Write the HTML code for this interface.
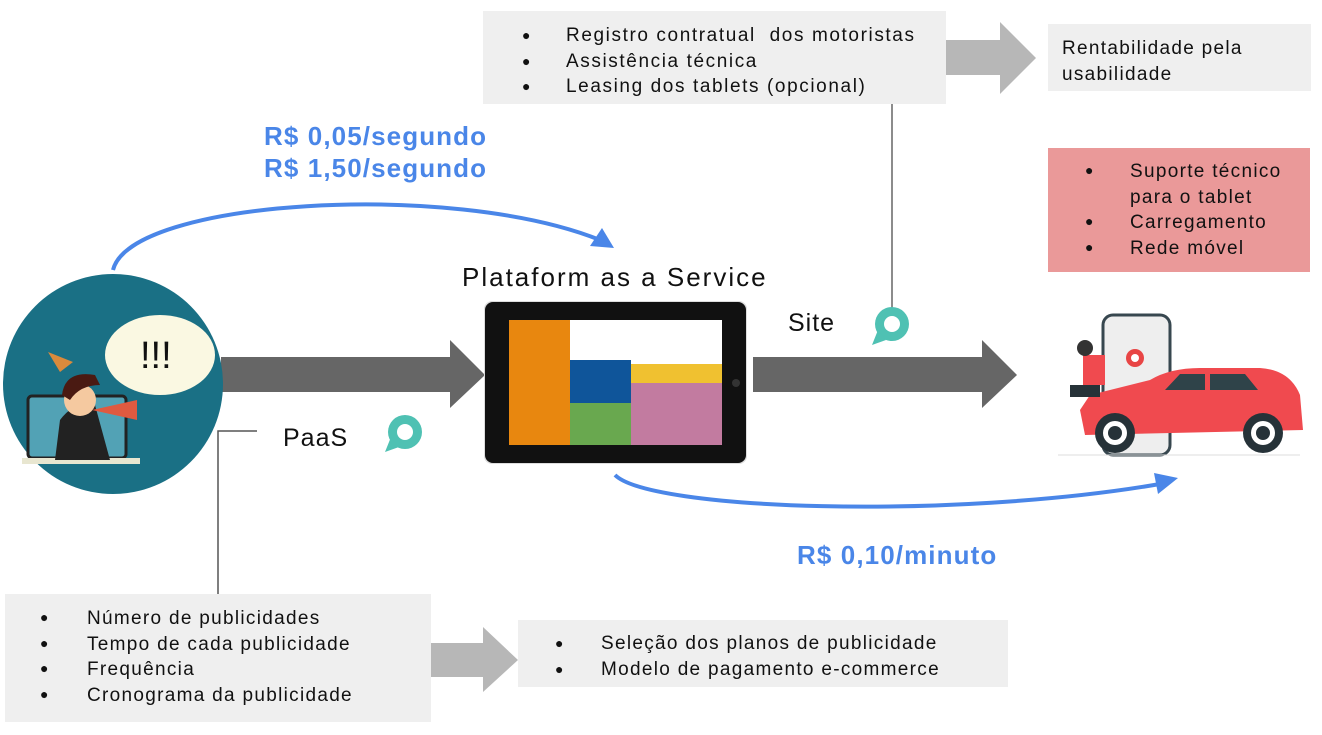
<!DOCTYPE html>
<html><head><meta charset="utf-8"><style>
body{margin:0;width:1322px;height:735px;background:#fff;position:relative;overflow:hidden;font-family:"Liberation Sans",sans-serif;color:#111}
.a{position:absolute;white-space:nowrap}
.box{position:absolute;background:#efefef}
.t{position:absolute;font-size:19px;white-space:nowrap;letter-spacing:1.3px}
.b{position:absolute;font-size:14px}
</style></head><body>
<svg class="a" style="left:0;top:0" width="1322" height="735">
<polygon points="946,40 1000,40 1000,22 1036,58 1000,94 1000,75 946,75" fill="#b7b7b7"/>
<polygon points="428,643 483,643 483,627 518,660 483,692 483,677 428,677" fill="#b7b7b7"/>
<polygon points="221,357 450,357 450,340 485,375 450,408 450,392 221,392" fill="#666"/>
<polygon points="753,357 982,357 982,340 1017,375 982,408 982,392 753,392" fill="#666"/>
<line x1="892" y1="104" x2="892" y2="312" stroke="#666" stroke-width="1.5"/>
<polyline points="257,431 218,431 218,595" fill="none" stroke="#555" stroke-width="1.5"/>
<path d="M113,270 C130,200 450,180 600,240" fill="none" stroke="#4a86e8" stroke-width="4"/>
<polygon points="614,248 590,246 602,228" fill="#4a86e8"/>
<path d="M615,475 C650,510 950,520 1160,484" fill="none" stroke="#4a86e8" stroke-width="4"/>
<polygon points="1178,478 1158,494 1154,473" fill="#4a86e8"/>
<circle cx="113" cy="384" r="110" fill="#1a7085"/>
<ellipse cx="160" cy="355" rx="55" ry="40" fill="#faf8e2"/>
<text x="140" y="368" font-size="38" font-family="Liberation Sans" fill="#111">!!!</text>
<rect x="28" y="396" width="98" height="62" rx="4" fill="#52a2b5" stroke="#222" stroke-width="3"/>
<rect x="22" y="458" width="118" height="6" fill="#e8e6d0"/>
<path d="M55,460 L60,420 Q75,400 95,405 L110,460 Z" fill="#222"/>
<circle cx="80" cy="400" r="16" fill="#f5c9a0"/>
<path d="M62,395 Q65,370 95,375 L100,385 Q80,385 70,400 Z" fill="#4a1a12"/>
<polygon points="92,410 137,400 137,420" fill="#e05a40"/>
<polygon points="48,352 73,362 60,372" fill="#d98a3c"/>
<rect x="484" y="301" width="263" height="163" rx="8" fill="#ddd"/>
<rect x="485" y="302" width="261" height="161" rx="8" fill="#111"/>
<rect x="509" y="320" width="213" height="125" fill="#fff"/>
<rect x="509" y="320" width="61" height="125" fill="#e8870f"/>
<rect x="570" y="360" width="61" height="43" fill="#0f559a"/>
<rect x="570" y="403" width="61" height="42" fill="#69a84f"/>
<rect x="631" y="364" width="91" height="19" fill="#f0c130"/>
<rect x="631" y="383" width="91" height="62" fill="#c27ba0"/>
<circle cx="736" cy="383" r="4" fill="#333"/>
<circle cx="892" cy="324" r="17" fill="#4fc1b3"/><circle cx="892" cy="324" r="8" fill="#fff"/><polygon points="872,345 878,330 886,340" fill="#4fc1b3"/>
<circle cx="405" cy="432" r="17" fill="#4fc1b3"/><circle cx="405" cy="432" r="8" fill="#fff"/><polygon points="385,452 391,437 399,447" fill="#4fc1b3"/>
<rect x="1103" y="315" width="67" height="140" rx="10" fill="#eee" stroke="#37474f" stroke-width="3"/>
<circle cx="1135" cy="358" r="9" fill="#e84545"/><circle cx="1135" cy="358" r="4" fill="#fff"/>
<path d="M1080,410 L1090,395 L1150,380 Q1170,368 1200,368 L1260,368 Q1290,370 1300,395 L1303,430 L1085,435 Z" fill="#f04a4f"/>
<path d="M1165,390 L1180,374 L1205,374 L1205,390 Z M1210,374 L1245,374 L1258,390 L1210,390 Z" fill="#2f4349"/>
<rect x="1083" y="355" width="22" height="30" fill="#f04a4f"/>
<circle cx="1085" cy="348" r="8" fill="#333"/>
<rect x="1070" y="385" width="30" height="12" fill="#263238"/>
<circle cx="1115" cy="433" r="20" fill="#263238"/><circle cx="1115" cy="433" r="12" fill="#fff"/><circle cx="1115" cy="433" r="7" fill="#263238"/>
<circle cx="1263" cy="433" r="20" fill="#263238"/><circle cx="1263" cy="433" r="12" fill="#fff"/><circle cx="1263" cy="433" r="7" fill="#263238"/>
<line x1="1058" y1="455" x2="1300" y2="455" stroke="#ddd"/>
</svg>

<div class="box" style="left:483px;top:11px;width:463px;height:93px"></div>
<div class="b" style="left:522px;top:23px;line-height:25.5px">●<br>●<br>●</div>
<div class="t" style="left:566px;top:23px;line-height:25.5px;letter-spacing:1.6px">Registro contratual &nbsp;dos motoristas<br>Assistência técnica<br>Leasing dos tablets (opcional)</div>

<div class="box" style="left:1048px;top:24px;width:263px;height:67px"></div>
<div class="t" style="left:1062px;top:36px;line-height:26px">Rentabilidade pela<br>usabilidade</div>

<div class="a" style="left:264px;top:120px;font-size:26px;line-height:32px;color:#4a86e8;font-weight:bold;letter-spacing:1.1px">R$ 0,05/segundo<br>R$ 1,50/segundo</div>

<div class="box" style="left:1048px;top:148px;width:262px;height:124px;background:#ea9999"></div>
<div class="b" style="left:1085px;top:158px;line-height:25.7px">●<br><br>●<br>●</div>
<div class="t" style="left:1130px;top:159px;line-height:25.7px">Suporte técnico<br>para o tablet<br>Carregamento<br>Rede móvel</div>

<div class="a" style="left:462px;top:262px;font-size:26px;letter-spacing:2px">Plataform as a Service</div>
<div class="a" style="left:788px;top:309px;font-size:25px;letter-spacing:1px">Site</div>
<div class="a" style="left:283px;top:424px;font-size:25px;letter-spacing:1px">PaaS</div>
<div class="a" style="left:797px;top:540px;font-size:26px;color:#4a86e8;font-weight:bold;letter-spacing:1.1px">R$ 0,10/minuto</div>

<div class="box" style="left:5px;top:594px;width:426px;height:128px"></div>
<div class="b" style="left:40px;top:605px;line-height:25.7px">●<br>●<br>●<br>●</div>
<div class="t" style="left:87px;top:606px;line-height:25.7px">Número de publicidades<br>Tempo de cada publicidade<br>Frequência<br>Cronograma da publicidade</div>

<div class="box" style="left:518px;top:620px;width:490px;height:67px"></div>
<div class="b" style="left:555px;top:630px;line-height:26px">●<br>●</div>
<div class="t" style="left:601px;top:631px;line-height:26px">Seleção dos planos de publicidade<br>Modelo de pagamento e-commerce</div>
</body></html>
